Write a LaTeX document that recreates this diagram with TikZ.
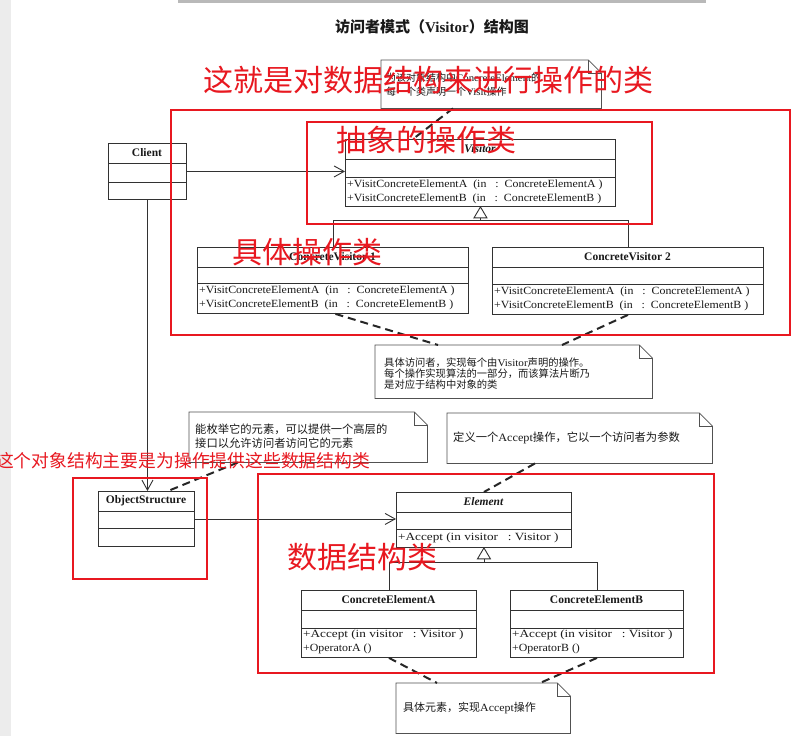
\documentclass[tikz,border=0pt]{standalone}
\usepackage{fontspec}
\setmainfont{Liberation Serif}
\newfontfamily\umlfont[FakeStretch=1.08]{Liberation Serif}
\newfontfamily\umlwide[FakeStretch=1.2]{Liberation Serif}
\newfontfamily\cjk{Noto Sans CJK SC}
\usetikzlibrary{arrows.meta}
\definecolor{redmark}{RGB}{232,24,32}
\definecolor{umlline}{RGB}{50,50,50}
\definecolor{umltext}{RGB}{25,25,25}
\newcommand\vopA{+VisitConcreteElementA\ \ (in\ \ \ :\ \ ConcreteElementA\ )}
\newcommand\vopB{+VisitConcreteElementB\ \ (in\ \ \ :\ \ ConcreteElementB\ )}
\newcommand\accop{{\umlwide +Accept\ (in visitor\ \ \ :\ Visitor\ )}}
\newcommand\notepath[1]{%
  \draw[noteline] (#1.north west) -- ([xshift=-13pt]#1.north east) -- ([yshift=-13pt]#1.north east) -- (#1.south east) -- (#1.south west) -- cycle;
  \draw[noteline] ([xshift=-13pt]#1.north east) -- ([xshift=-13pt,yshift=-13pt]#1.north east) -- ([yshift=-13pt]#1.north east);}
\begin{document}
\begin{tikzpicture}[x=1pt,y=-1pt,
  cls/.style={draw=umlline, line width=0.9pt, anchor=north west, inner sep=0pt},
  cline/.style={draw=umlline, line width=0.9pt},
  clsname/.style={font=\fontsize{11.5}{13}\selectfont\bfseries, text=umltext, inner sep=0pt},
  ops/.style={font=\umlfont\fontsize{11}{13}\selectfont, text=umltext, anchor=west, inner sep=0pt},
  notebox/.style={anchor=north west, inner sep=0pt},
  noteline/.style={draw=umlline!85, line width=0.8pt},
  notetxt/.style={anchor=base west, inner sep=0pt, text=umltext},
  dashconn/.style={draw=black!85, line width=2pt, dash pattern=on 8pt off 5pt},
  assoc/.style={draw=umlline, line width=0.9pt, -{Straight Barb[length=10pt,width=11pt]}},
  redbox/.style={draw=redmark, line width=2pt},
  redtxt/.style={anchor=base west, inner sep=0pt, text=redmark}
]
\useasboundingbox (0,0) rectangle (808,736);
\fill[white] (0,0) rectangle (808,736);
\fill[gray!15] (0,0) rectangle (11,736);
\fill[gray!55] (178,0) rectangle (706,2.5);

% title
\node[anchor=base, inner sep=0pt, text=umltext, font={\cjk\bfseries\fontsize{15}{17}\selectfont}] (title) at (432,32) {访问者模式（{\rmfamily\bfseries Visitor}）结构图};

% ---------- classes ----------
% Client
\node[cls, minimum width=78pt, minimum height=56pt] (client) at (108,143) {};
\draw[cline] (108,163) -- (186,163);
\draw[cline] (108,182) -- (186,182);
\node[clsname] (clientn) at (147,153) {Client};

% Visitor
\node[cls, minimum width=270pt, minimum height=67pt] (vis) at (345,139) {};
\draw[cline] (345,159) -- (615,159);
\draw[cline] (345,177) -- (615,177);
\node[clsname, font=\fontsize{11.5}{13}\selectfont\bfseries\itshape] (visn) at (480,149) {Visitor};
\node[ops] (visa) at (347,185) {\vopA};
\node[ops] (visb) at (347,199) {\vopB};

% ConcreteVisitor 1
\node[cls, minimum width=271pt, minimum height=66pt] (cv1) at (197,247) {};
\draw[cline] (197,267) -- (468,267);
\draw[cline] (197,283) -- (468,283);
\node[clsname] (cv1n) at (332.5,257) {ConcreteVisitor 1};
\node[ops] (cv1a) at (199,291) {\vopA};
\node[ops] (cv1b) at (199,305) {\vopB};

% ConcreteVisitor 2
\node[cls, minimum width=271pt, minimum height=67pt] (cv2) at (492,247) {};
\draw[cline] (492,267) -- (763,267);
\draw[cline] (492,284) -- (763,284);
\node[clsname] (cv2n) at (627.5,257) {ConcreteVisitor 2};
\node[ops] (cv2a) at (494,292) {\vopA};
\node[ops] (cv2b) at (494,306) {\vopB};

% ObjectStructure
\node[cls, minimum width=96pt, minimum height=55pt] (obj) at (98,491) {};
\draw[cline] (98,511) -- (194,511);
\draw[cline] (98,528) -- (194,528);
\node[clsname] (objn) at (146,501) {ObjectStructure};

% Element
\node[cls, minimum width=175pt, minimum height=55pt] (elem) at (396,492) {};
\draw[cline] (396,512) -- (571,512);
\draw[cline] (396,529) -- (571,529);
\node[clsname, font=\fontsize{11.5}{13}\selectfont\bfseries\itshape] (elemn) at (483.5,502) {Element};
\node[ops] (elema) at (398,538) {\accop};

% ConcreteElementA
\node[cls, minimum width=175pt, minimum height=67pt] (cea) at (301,590) {};
\draw[cline] (301,610) -- (476,610);
\draw[cline] (301,628) -- (476,628);
\node[clsname] (cean) at (388.5,600) {ConcreteElementA};
\node[ops] (ceaa) at (303,635) {\accop};
\node[ops] (ceab) at (303,649) {+OperatorA ()};

% ConcreteElementB
\node[cls, minimum width=173pt, minimum height=67pt] (ceb) at (510,590) {};
\draw[cline] (510,610) -- (683,610);
\draw[cline] (510,628) -- (683,628);
\node[clsname] (cebn) at (596.5,600) {ConcreteElementB};
\node[ops] (ceba) at (512,635) {\accop};
\node[ops] (cebb) at (512,649) {+OperatorB ()};

% ---------- notes ----------
\node[notebox, minimum width=220pt, minimum height=48pt] (ntop) at (381,60) {};
\notepath{ntop}
\node[notetxt, font={\cjk\fontsize{10}{11}\selectfont}] (ntop1) at (386,81) {为该对象结构中{\umlfont ConcreteElement}的};
\node[notetxt, font={\cjk\fontsize{10}{11}\selectfont}] (ntop2) at (386,95) {每一个类声明一个{\umlfont Visit}操作};

\node[notebox, minimum width=277pt, minimum height=53pt] (n2) at (375,345) {};
\notepath{n2}
\node[notetxt, font={\cjk\fontsize{10.3}{11}\selectfont}] (n2a) at (384,366) {具体访问者，实现每个由{\umlfont Visitor}声明的操作。};
\node[notetxt, font={\cjk\fontsize{10.3}{11}\selectfont}] (n2b) at (384,377) {每个操作实现算法的一部分，而该算法片断乃};
\node[notetxt, font={\cjk\fontsize{10.3}{11}\selectfont}] (n2c) at (384,388) {是对应于结构中对象的类};

\node[notebox, minimum width=238pt, minimum height=50pt] (n3) at (189,412) {};
\notepath{n3}
\node[notetxt, font={\cjk\fontsize{11.3}{13}\selectfont}] (n3a) at (195,433) {能枚举它的元素，可以提供一个高层的};
\node[notetxt, font={\cjk\fontsize{11.3}{13}\selectfont}] (n3b) at (195,447) {接口以允许访问者访问它的元素};

\node[notebox, minimum width=265pt, minimum height=50pt] (n4) at (447,413) {};
\notepath{n4}
\node[notetxt, font={\cjk\fontsize{11.3}{13}\selectfont}] (n4a) at (453,441) {定义一个{\umlfont Accept}操作，它以一个访问者为参数};

\node[notebox, minimum width=174pt, minimum height=50pt] (n5) at (396,683) {};
\notepath{n5}
\node[notetxt, font={\cjk\fontsize{11}{13}\selectfont}] (n5a) at (403,711) {具体元素，实现{\umlfont Accept}操作};

% ---------- connectors ----------
\draw[assoc] (client.east) -- (client.east -| vis.west);
\draw[assoc] (client.south) -- (client.south |- obj.north);
\draw[assoc] (obj.east) -- (obj.east -| elem.west);

\coordinate (gv) at (480,220);
\draw[cline, fill=white] (vis.south) -- ++(-6.5,11) -- ++(13,0) -- cycle;
\draw[cline] ([yshift=-11pt]vis.south) -- (vis.south |- gv);
\draw[cline] (cv1.north) -- (cv1.north |- gv) -- (cv2.north |- gv) -- (cv2.north);

\coordinate (ge) at (483.5,562);
\draw[cline, fill=white] (elem.south) -- ++(-6.5,11) -- ++(13,0) -- cycle;
\draw[cline] ([yshift=-11pt]elem.south) -- (elem.south |- ge);
\draw[cline] (cea.north) -- (cea.north |- ge) -- (ceb.north |- ge) -- (ceb.north);

\draw[dashconn] ([xshift=72pt]ntop.south west) -- ([xshift=68pt]vis.north west);
\draw[dashconn] ([xshift=2.5pt]cv1.south) -- ([xshift=63pt]n2.north west);
\draw[dashconn] (cv2.south) -- ([xshift=187pt]n2.north west);
\draw[dashconn] ([xshift=49pt]n3.south west) -- ([xshift=70pt]obj.north west);
\draw[dashconn] ([xshift=88pt]n4.south west) -- (elem.north);
\draw[dashconn] (cea.south) -- ([xshift=41pt]n5.north west);
\draw[dashconn] (ceb.south) -- ([xshift=144pt]n5.north west);

% ---------- red annotations ----------
\draw[redbox] (171,110) rectangle (790,335);
\draw[redbox] (307,122) rectangle (652,224);
\draw[redbox] (73,478) rectangle (207,579);
\draw[redbox] (258,474) rectangle (714,673);
\node[redtxt, font={\cjk\fontsize{30}{34}\selectfont}] (r1) at (203,91) {这就是对数据结构来进行操作的类};
\node[redtxt, font={\cjk\fontsize{30}{34}\selectfont}] (r2) at (336,151) {抽象的操作类};
\node[redtxt, font={\cjk\fontsize{30}{34}\selectfont}] (r3) at (232,263) {具体操作类};
\node[redtxt, font={\cjk\fontsize{30}{34}\selectfont}] (r4) at (287,568) {数据结构类};
\node[redtxt, font={\cjk\fontsize{17.8}{20}\selectfont}] (r5) at (-4,467) {这个对象结构主要是为操作提供这些数据结构类};
\end{tikzpicture}
\end{document}
